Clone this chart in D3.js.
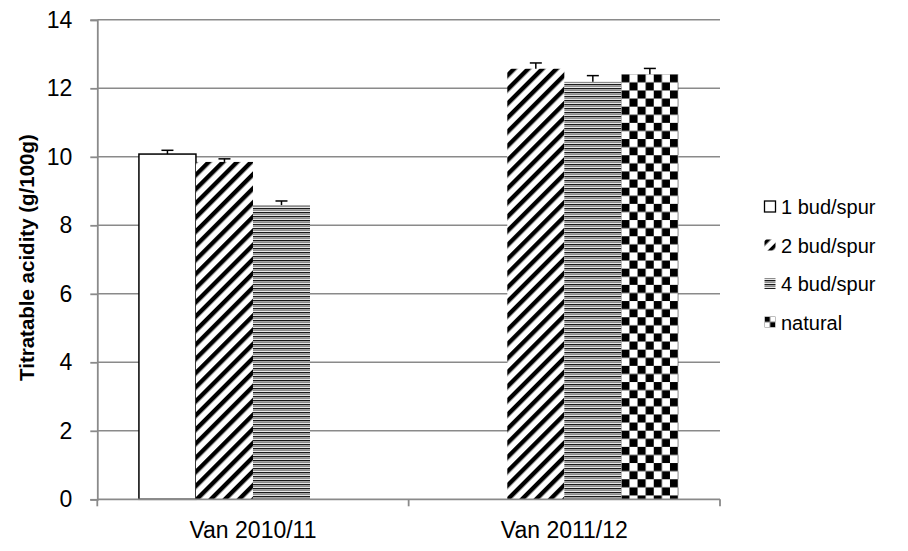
<!DOCTYPE html>
<html>
<head>
<meta charset="utf-8">
<script src="https://cdn.jsdelivr.net/npm/d3@7"></script>
<style>
  html, body { margin: 0; padding: 0; background: #fff; }
  svg { display: block; }
  text { font-family: "Liberation Sans", Arial, sans-serif; fill: #000; }
</style>
</head>
<body>
<svg id="chart" width="908" height="551"></svg>
<script>
// ---- data ----
const categories = ["Van 2010/11", "Van 2011/12"];
const seriesNames = ["1 bud/spur", "2 bud/spur", "4 bud/spur", "natural"];
const bud1 = [10.08, null];
const bud2 = [9.85, 12.57];
const bud4 = [8.59, 12.19];
const natural = [null, 12.41];
const bud1Err = [0.11, null];
const bud2Err = [0.09, 0.17];
const bud4Err = [0.12, 0.18];
const naturalErr = [null, 0.17];
const yTicks = [0, 2, 4, 6, 8, 10, 12, 14];
const yTitle = "Titratable acidity (g/100g)";

const seriesValues = [bud1, bud2, bud4, natural];
const seriesErrors = [bud1Err, bud2Err, bud4Err, naturalErr];
const fills = ["#ffffff", "url(#pDiag)", "url(#pHoriz)", "url(#pCheck)"];
const legendFills = ["#ffffff", "url(#lDiag)", "url(#lHoriz)", "url(#lCheck)"];

const svg = d3.select("#chart");
const mLeft = 97.3, mRight = 720, mTop = 19.8, mBottom = 499.3;
const gridColor = "#8a8a8a";

const x0 = d3.scaleBand().domain(categories).range([mLeft, mRight]).paddingInner(0).paddingOuter(0);
const x1 = d3.scaleBand().domain(seriesNames).range([0, x0.bandwidth()]).paddingInner(0).paddingOuter(0.73);
const y = d3.scaleLinear().domain([0, 14]).range([mBottom, mTop]);

// ---- patterns ----
const defs = svg.append("defs");
function diag(id, size, sw, ox, oy) {
  const p = defs.append("pattern").attr("id", id).attr("patternUnits", "userSpaceOnUse")
    .attr("width", size).attr("height", size).attr("x", ox || 0).attr("y", oy || 0)
    .attr("patternTransform", "rotate(45)");
  p.append("rect").attr("width", size).attr("height", size).attr("fill", "#fff");
  p.append("rect").attr("x", 0).attr("width", sw).attr("height", size).attr("fill", "#000");
}
diag("pDiag", 10, 4.4);
diag("lDiag", 9, 3.5);
function horiz(id, ox, oy) {
  const p = defs.append("pattern").attr("id", id).attr("patternUnits", "userSpaceOnUse")
    .attr("width", 8).attr("height", 4).attr("x", ox || 0).attr("y", oy || 0);
  p.append("rect").attr("width", 8).attr("height", 4).attr("fill", "#ffffff");
  p.append("rect").attr("y", 0).attr("width", 8).attr("height", 1.4).attr("fill", "#1a1a1a");
  p.append("rect").attr("y", 2).attr("width", 8).attr("height", 1.2).attr("fill", "#8c8c8c");
}
horiz("pHoriz");
horiz("lHoriz");
function check(id, s, ox, oy) {
  const p = defs.append("pattern").attr("id", id).attr("patternUnits", "userSpaceOnUse")
    .attr("width", 2 * s).attr("height", 2 * s).attr("x", ox || 0).attr("y", oy || 0);
  p.append("rect").attr("width", 2 * s).attr("height", 2 * s).attr("fill", "#fff");
  p.append("rect").attr("width", s).attr("height", s).attr("fill", "#000");
  p.append("rect").attr("x", s).attr("y", s).attr("width", s).attr("height", s).attr("fill", "#000");
}

// ---- gridlines ----
svg.append("g").selectAll("line").data(yTicks.filter(d => d > 0)).join("line")
  .attr("x1", mLeft).attr("x2", mRight)
  .attr("y1", d => y(d)).attr("y2", d => y(d))
  .attr("stroke", gridColor).attr("stroke-width", 1.5);

// ---- bars ----
const checkX = x0(categories[1]) + x1("natural");
check("pCheck", 8.1, checkX, y(natural[1]));

const barData = [];
seriesNames.forEach((s, si) => {
  categories.forEach((c, ci) => {
    const v = seriesValues[si][ci];
    if (v != null) barData.push({ s, si, c, v, e: seriesErrors[si][ci] });
  });
});

svg.append("g").selectAll("rect").data(barData).join("rect")
  .attr("x", d => x0(d.c) + x1(d.s))
  .attr("y", d => y(d.v))
  .attr("width", x1.bandwidth())
  .attr("height", d => y(0) - y(d.v))
  .attr("fill", d => fills[d.si])
  .attr("stroke", d => d.si === 0 ? "#000" : "none")
  .attr("stroke-width", 1.5);

// ---- error bars ----
const eg = svg.append("g").attr("stroke", "#000").attr("stroke-width", 1.5);
barData.forEach(d => {
  const cx = x0(d.c) + x1(d.s) + x1.bandwidth() / 2;
  eg.append("line").attr("x1", cx).attr("x2", cx).attr("y1", y(d.v)).attr("y2", y(d.v + d.e));
  eg.append("line").attr("x1", cx - 6).attr("x2", cx + 6).attr("y1", y(d.v + d.e)).attr("y2", y(d.v + d.e));
});

// ---- axes ----
const yAxis = svg.append("g").attr("transform", `translate(${mLeft},0)`)
  .call(d3.axisLeft(y).tickValues(yTicks).tickSize(7).tickPadding(18).tickFormat(d3.format("d")));
yAxis.selectAll("path, line").attr("stroke", gridColor).attr("stroke-width", 1.8);
yAxis.selectAll("text").style("font-size", "23px").style("font-family", "Liberation Sans, Arial, sans-serif");

const xAxisG = svg.append("g").attr("transform", `translate(0,${mBottom})`);
xAxisG.append("line").attr("x1", mLeft).attr("x2", mRight).attr("stroke", gridColor).attr("stroke-width", 1.8);
const xTickPos = [mLeft, ...categories.slice(1).map(c => x0(c)), mRight];
xAxisG.selectAll("line.t").data(xTickPos).join("line").attr("class", "t")
  .attr("x1", d => d).attr("x2", d => d).attr("y1", 0).attr("y2", 7)
  .attr("stroke", gridColor).attr("stroke-width", 1.8);
xAxisG.selectAll("text").data(categories).join("text")
  .attr("x", d => x0(d) + x0.bandwidth() / 2)
  .attr("y", 39)
  .attr("text-anchor", "middle")
  .style("font-size", "23px")
  .text(d => d);

// ---- y title ----
svg.append("text")
  .attr("transform", `translate(34,${(mTop + mBottom) / 2 - 2}) rotate(-90)`)
  .attr("text-anchor", "middle")
  .style("font-size", "20.5px").style("font-weight", "bold")
  .text(yTitle);

// ---- legend ----
const legY = [207, 245.5, 284, 322.5];
const lg = svg.append("g");
seriesNames.forEach((s, i) => {
  const sx = 764.5, sy = legY[i] - 6, sz = 11;
  if (i === 3) check("lCheck", 5.5, sx, sy);
  lg.append("rect").attr("x", sx).attr("y", sy).attr("width", sz).attr("height", sz)
    .attr("fill", legendFills[i])
    .attr("stroke", i === 0 ? "#000" : "none").attr("stroke-width", 1.3);
  lg.append("text").attr("x", 781).attr("y", legY[i]).attr("dy", "0.35em")
    .style("font-size", "20px").text(s);
});
</script>
</body>
</html>
